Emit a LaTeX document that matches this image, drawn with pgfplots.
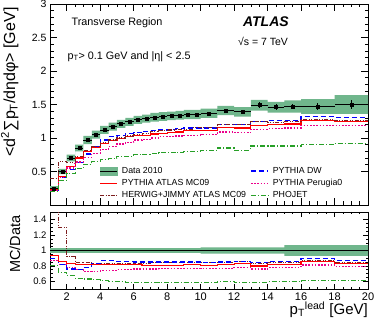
\documentclass[border=0pt]{standalone}
\usepackage{fontspec}
\setmainfont{Liberation Sans}
\usepackage{pgfplots}
\pgfplotsset{compat=1.18}
\usepgfplotslibrary{fillbetween}
\usepackage{pgfplotstable}

\definecolor{bandgreen}{RGB}{112,182,140}
\definecolor{hwbrown}{RGB}{125,30,30}
\definecolor{phogreen}{RGB}{40,160,40}

% bins: lower edge, centre, half width; data with band; MC; ratio band; MC/data
\pgfplotstableread{
xlo xc hw D Dup Dlo Dst R B M G H rup rlo rR rB rM rG rH
1.0 1.25 0.25 0.25 0.28 0.22 0.005 0.23 0.225 0.22 0.20 0.40 1.03 0.97 0.93 0.90 0.87 0.80 1.60
1.5 1.75 0.25 0.50 0.54 0.46 0.005 0.43 0.41 0.41 0.36 0.65 1.03 0.97 0.86 0.82 0.82 0.72 1.30
2.0 2.25 0.25 0.70 0.75 0.65 0.005 0.58 0.53 0.55 0.47 0.64 1.03 0.97 0.83 0.76 0.78 0.67 0.92
2.5 2.75 0.25 0.85 0.90 0.80 0.005 0.70 0.64 0.64 0.54 0.72 1.03 0.97 0.82 0.75 0.75 0.64 0.85
3.0 3.25 0.25 0.97 1.03 0.91 0.005 0.80 0.76 0.71 0.61 0.81 1.03 0.97 0.82 0.78 0.73 0.63 0.84
3.5 3.75 0.25 1.05 1.11 0.99 0.005 0.86 0.87 0.77 0.65 0.87 1.03 0.97 0.82 0.83 0.73 0.62 0.83
4.0 4.25 0.25 1.12 1.18 1.06 0.008 0.92 0.97 0.83 0.68 0.93 1.03 0.97 0.82 0.87 0.74 0.61 0.83
4.5 4.75 0.25 1.17 1.23 1.11 0.008 0.96 1.02 0.87 0.70 0.97 1.03 0.97 0.82 0.87 0.74 0.60 0.83
5.0 5.25 0.25 1.21 1.27 1.15 0.008 0.99 1.04 0.91 0.73 1.00 1.03 0.97 0.82 0.86 0.75 0.60 0.83
5.5 5.75 0.25 1.24 1.30 1.18 0.010 1.02 1.07 0.93 0.73 1.03 1.03 0.97 0.82 0.86 0.75 0.59 0.83
6.0 6.25 0.25 1.27 1.33 1.21 0.010 1.04 1.08 0.97 0.75 1.05 1.03 0.97 0.82 0.85 0.76 0.59 0.83
6.5 6.75 0.25 1.29 1.35 1.23 0.010 1.04 1.10 0.98 0.76 1.07 1.03 0.97 0.81 0.85 0.76 0.59 0.83
7.0 7.25 0.25 1.31 1.375 1.245 0.010 1.06 1.11 1.00 0.77 1.10 1.03 0.97 0.81 0.85 0.76 0.59 0.84
7.5 7.75 0.25 1.32 1.385 1.255 0.012 1.07 1.12 1.02 0.78 1.11 1.03 0.97 0.81 0.85 0.77 0.59 0.84
8.0 8.25 0.25 1.33 1.395 1.265 0.012 1.08 1.13 1.02 0.78 1.12 1.03 0.97 0.81 0.85 0.77 0.59 0.84
8.5 8.75 0.25 1.34 1.405 1.275 0.012 1.09 1.14 1.03 0.79 1.13 1.03 0.97 0.81 0.85 0.77 0.59 0.84
9.0 9.25 0.25 1.35 1.42 1.28 0.015 1.11 1.15 1.04 0.80 1.13 1.03 0.97 0.82 0.85 0.77 0.59 0.84
9.5 9.75 0.25 1.35 1.42 1.28 0.015 1.11 1.15 1.04 0.80 1.15 1.03 0.97 0.82 0.85 0.77 0.59 0.85
10 10.5 0.5 1.37 1.44 1.30 0.020 1.11 1.15 1.05 0.81 1.15 1.04 0.96 0.81 0.84 0.77 0.59 0.84
11 11.5 0.5 1.41 1.48 1.34 0.020 1.16 1.20 1.09 0.85 1.20 1.04 0.96 0.82 0.85 0.77 0.60 0.85
12 12.5 0.5 1.39 1.46 1.32 0.025 1.15 1.20 1.08 0.82 1.20 1.04 0.96 0.83 0.86 0.78 0.59 0.86
13 13.5 0.5 1.49 1.57 1.41 0.040 1.19 1.25 1.13 0.88 1.24 1.04 0.96 0.80 0.84 0.76 0.59 0.83
14 14.5 0.5 1.46 1.54 1.38 0.040 1.20 1.26 1.14 0.88 1.23 1.04 0.96 0.82 0.86 0.78 0.60 0.84
15 15.5 0.5 1.47 1.56 1.38 0.040 1.21 1.26 1.15 0.88 1.25 1.07 0.93 0.82 0.86 0.78 0.60 0.85
16 17 1.0 1.47 1.58 1.36 0.050 1.26 1.32 1.19 0.90 1.28 1.07 0.93 0.86 0.90 0.81 0.61 0.87
18 19 1.0 1.50 1.64 1.36 0.070 1.25 1.31 1.19 0.92 1.26 1.07 0.93 0.83 0.87 0.79 0.61 0.84
20 20 0.0 1.50 1.64 1.36 0.070 1.25 1.31 1.19 0.92 1.26 1.07 0.93 0.83 0.87 0.79 0.61 0.84
}\uetab

\pgfplotsset{
  atlas/.style={
    scale only axis, width=318pt,
    xmin=1, xmax=20,
    tick align=inside,
    axis line style={line width=0.8pt},
    every tick/.style={black, line width=0.6pt},
    /pgf/number format/assume math mode=true,
    xtick={2,4,...,20}, minor x tick num=3,
  },
  dw/.style={blue, dash pattern=on 5pt off 3pt, line width=1.2pt},
  mc09/.style={red, line width=1.2pt},
  per0/.style={magenta, dash pattern=on 1.6pt off 1.6pt, line width=1.3pt},
  hw/.style={hwbrown, dash pattern=on 4pt off 1.5pt on 1pt off 1.5pt on 1pt off 1.5pt, line width=1.1pt},
  pho/.style={phogreen, dash pattern=on 5pt off 2pt on 1pt off 2pt, line width=1.1pt},
}

\begin{document}
\begin{tikzpicture}
\begin{axis}[atlas, name=top,
  height=201pt,
  ymin=0, ymax=3,
  ytick={0.5,1,...,3}, minor y tick num=4,
  xticklabels={},
  major tick length=7pt, minor tick length=3.5pt,
  tick label style={font=\fontsize{10.5}{12}\selectfont},
  ylabel={<d\textsuperscript{2}∑p\textsubscript{T}/dηdφ> [GeV]},
  ylabel style={font=\fontsize{16}{18}\selectfont, at={(axis description cs:-0.088,1)}, anchor=south east, rotate=0},
  legend columns=2,
  legend style={at={(axis description cs:0.155,0.2)}, anchor=north west, draw=none, fill=none,
    font=\fontsize{8.8}{10}\selectfont, inner sep=0pt,
    nodes={inner sep=2.2pt}, column sep=2pt},
  legend cell align=left,
]
\addplot[name path=dup, const plot, draw=none, forget plot] table[x=xlo, y=Dup]{\uetab};
\addplot[name path=dlo, const plot, draw=none, forget plot] table[x=xlo, y=Dlo]{\uetab};
\addplot[bandgreen, forget plot] fill between[of=dup and dlo];

\addplot[black, only marks, mark=square*, mark size=1.5pt,
  skip coords between index={26}{27},
  legend image code/.code={
    \fill[bandgreen] (0cm,-0.13cm) rectangle (0.6cm,0.13cm);
    \draw[black, line width=1pt] (0cm,0cm) -- (0.6cm,0cm);},
  error bars/.cd, x dir=both, x explicit, y dir=both, y explicit,
  error mark=none, error bar style={line width=0.9pt}]
  table[x=xc, y=D, x error=hw, y error=Dst]{\uetab};
\addlegendentry{Data 2010}
\addplot[dw, const plot] table[x=xlo, y=B]{\uetab};
\addlegendentry{PYTHIA DW}
\addplot[mc09, const plot] table[x=xlo, y=R]{\uetab};
\addlegendentry{PYTHIA ATLAS MC09}
\addplot[per0, const plot] table[x=xlo, y=M]{\uetab};
\addlegendentry{PYTHIA Perugia0}
\addplot[hw, const plot] table[x=xlo, y=H]{\uetab};
\addlegendentry{HERWIG+JIMMY ATLAS MC09}
\addplot[pho, const plot] table[x=xlo, y=G]{\uetab};
\addlegendentry{PHOJET}

\node[anchor=west, font=\fontsize{10.8}{12}\selectfont] at (axis description cs:0.057,0.906) {Transverse Region};
\node[anchor=west, font=\fontsize{10.8}{12}\selectfont] at (axis description cs:0.044,0.739) {p\textsubscript{T}> 0.1 GeV and |η| < 2.5};
\node[font=\fontsize{14}{16}\selectfont\bfseries\itshape] at (axis description cs:0.679,0.911) {ATLAS};
\node[font=\fontsize{10.5}{12}\selectfont] at (axis description cs:0.67,0.814) {√s = 7 TeV};
\end{axis}

\begin{axis}[atlas, name=bot,
  at={(top.south west)}, anchor=north west, yshift=-7pt,
  height=77pt,
  ymin=0.5, ymax=1.5,
  ytick={0.6,0.8,...,1.4}, minor y tick num=3,
  major tick length=5pt, minor tick length=2.5pt,
  yticklabel style={font=\fontsize{9.5}{11}\selectfont},
  xticklabel style={font=\fontsize{11}{12}\selectfont},
  ylabel={MC/Data},
  ylabel style={font=\fontsize{14.5}{16}\selectfont, at={(axis description cs:-0.082,1)}, anchor=south east, rotate=0},
  xlabel={p\textsubscript{T}\textsuperscript{lead} [GeV]},
  xlabel style={font=\fontsize{15}{16}\selectfont, at={(axis description cs:1,0)}, anchor=north east, yshift=-12.5pt, inner sep=0pt},
]
\addplot[name path=rup, const plot, draw=none] table[x=xlo, y=rup]{\uetab};
\addplot[name path=rlo, const plot, draw=none] table[x=xlo, y=rlo]{\uetab};
\addplot[bandgreen] fill between[of=rup and rlo];
\addplot[black, line width=0.9pt] coordinates {(1,1) (20,1)};
\addplot[pho, const plot] table[x=xlo, y=rG]{\uetab};
\addplot[per0, const plot] table[x=xlo, y=rM]{\uetab};
\addplot[hw, const plot] table[x=xlo, y=rH]{\uetab};
\addplot[dw, const plot] table[x=xlo, y=rB]{\uetab};
\addplot[mc09, const plot] table[x=xlo, y=rR]{\uetab};
\end{axis}
\pgfresetboundingbox
\path ([xshift=-50pt,yshift=4pt]top.north west) rectangle ([xshift=6pt,yshift=-36pt]bot.south east);
\end{tikzpicture}
\end{document}
